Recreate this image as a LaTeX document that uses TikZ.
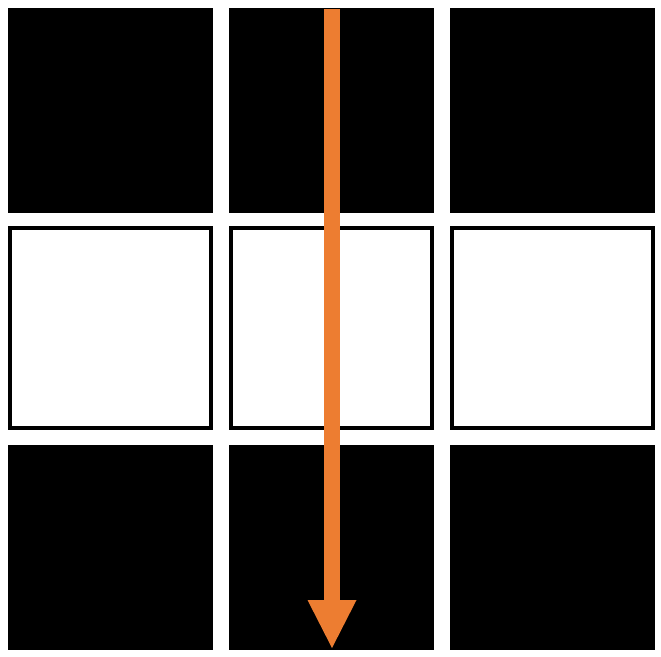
\documentclass[tikz,border=0pt]{standalone}
\usepackage{tikz}
\usetikzlibrary{arrows.meta}
\definecolor{arroworange}{HTML}{ED7D31}

\begin{document}
\begin{tikzpicture}[x=1pt,y=-1pt,
  dark/.style={fill=black,inner sep=0pt,minimum size=205pt},
  light/.style={draw=black,fill=white,line width=4pt,inner sep=0pt,minimum width=201pt,minimum height=200pt},
  flow/.style={arroworange,line width=16pt,-{Triangle[width=49pt,length=48pt,line width=0pt]}}]
\useasboundingbox (0,0) rectangle (661,656);

\node[dark](t1) at (110.5,110.5) {};
\node[dark](t2) at (331.5,110.5) {};
\node[dark](t3) at (552.5,110.5) {};

\node[light](m1) at (110.5,328) {};
\node[light](m2) at (331.5,328) {};
\node[light](m3) at (552.5,328) {};

\node[dark](b1) at (110.5,547.5) {};
\node[dark](b2) at (331.5,547.5) {};
\node[dark](b3) at (552.5,547.5) {};

\coordinate (src) at (332,9);
\coordinate (dst) at (332,648);
\draw[flow] (src)--(dst);
\end{tikzpicture}
\end{document}
